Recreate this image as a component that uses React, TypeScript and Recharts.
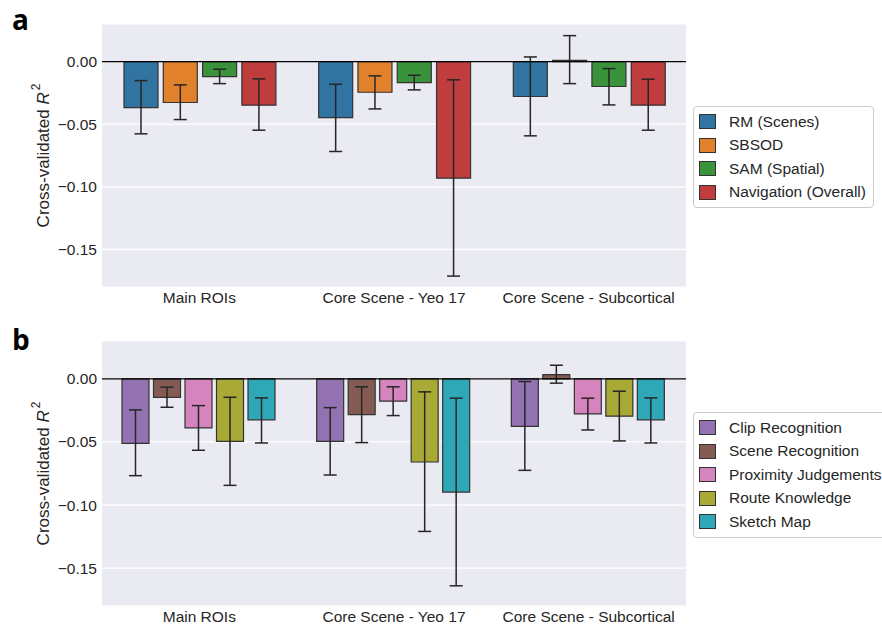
import React from "react";
import {
  BarChart,
  Bar,
  XAxis,
  YAxis,
  CartesianGrid,
  ReferenceLine,
  ErrorBar,
} from "recharts";

const FONT = '"Liberation Sans", Arial, sans-serif';

const categories = ["Main ROIs", "Core Scene - Yeo 17", "Core Scene - Subcortical"];
const yTicks = [-0.15, -0.1, -0.05, 0];

// panel a - questionnaire / behavioural scores
const rmScenes = [-0.0367, -0.0447, -0.0279];
const rmScenesLo = [-0.0577, -0.0718, -0.0593];
const rmScenesHi = [-0.0152, -0.0181, 0.0037];

const sbsod = [-0.0327, -0.0245, 0.001];
const sbsodLo = [-0.0463, -0.0378, -0.0176];
const sbsodHi = [-0.0186, -0.0114, 0.0207];

const samSpatial = [-0.012, -0.0168, -0.0199];
const samSpatialLo = [-0.0176, -0.0226, -0.0346];
const samSpatialHi = [-0.0061, -0.0109, -0.0056];

const navOverall = [-0.0348, -0.0931, -0.0348];
const navOverallLo = [-0.0548, -0.1713, -0.0548];
const navOverallHi = [-0.0138, -0.0146, -0.0141];

// panel b - navigation sub-tests
const clipRec = [-0.0511, -0.0495, -0.0376];
const clipRecLo = [-0.0767, -0.0762, -0.0725];
const clipRecHi = [-0.0246, -0.0228, -0.0021];

const sceneRec = [-0.0146, -0.0283, 0.0034];
const sceneRecLo = [-0.0225, -0.0505, -0.0034];
const sceneRecHi = [-0.0066, -0.0063, 0.0108];

const proximity = [-0.0389, -0.0177, -0.0278];
const proximityLo = [-0.0566, -0.0291, -0.0405];
const proximityHi = [-0.0212, -0.0063, -0.0153];

const routeKnow = [-0.0495, -0.0659, -0.0296];
const routeKnowLo = [-0.0844, -0.1209, -0.0492];
const routeKnowHi = [-0.0146, -0.0103, -0.0098];

const sketchMap = [-0.0325, -0.0897, -0.0325];
const sketchMapLo = [-0.0508, -0.164, -0.0508];
const sketchMapHi = [-0.0151, -0.0153, -0.0151];

type Series = {
  key: string;
  name: string;
  color: string;
  values: number[];
  lo: number[];
  hi: number[];
};

const seriesA: Series[] = [
  { key: "rm", name: "RM (Scenes)", color: "#3274A1", values: rmScenes, lo: rmScenesLo, hi: rmScenesHi },
  { key: "sbsod", name: "SBSOD", color: "#E1812C", values: sbsod, lo: sbsodLo, hi: sbsodHi },
  { key: "sam", name: "SAM (Spatial)", color: "#3A923A", values: samSpatial, lo: samSpatialLo, hi: samSpatialHi },
  { key: "nav", name: "Navigation (Overall)", color: "#C03D3E", values: navOverall, lo: navOverallLo, hi: navOverallHi },
];

const seriesB: Series[] = [
  { key: "clip", name: "Clip Recognition", color: "#9372B2", values: clipRec, lo: clipRecLo, hi: clipRecHi },
  { key: "scene", name: "Scene Recognition", color: "#845B53", values: sceneRec, lo: sceneRecLo, hi: sceneRecHi },
  { key: "prox", name: "Proximity Judgements", color: "#D684BD", values: proximity, lo: proximityLo, hi: proximityHi },
  { key: "route", name: "Route Knowledge", color: "#A9AA35", values: routeKnow, lo: routeKnowLo, hi: routeKnowHi },
  { key: "sketch", name: "Sketch Map", color: "#2EA8B7", values: sketchMap, lo: sketchMapLo, hi: sketchMapHi },
];

function buildRows(series: Series[]) {
  return categories.map((name, i) => {
    const row: Record<string, any> = { name };
    series.forEach((s) => {
      const v = s.values[i];
      row[s.key] = v;
      // asymmetric error: [below, above]
      row[s.key + "Err"] = [v - s.lo[i], s.hi[i] - v];
    });
    return row;
  });
}

const fmtTick = (v: number) =>
  v === 0 ? "0.00" : (v < 0 ? "\u2212" : "") + Math.abs(v).toFixed(2);

type PanelProps = {
  top: number;
  height: number;
  plotTop: number;
  plotBottom: number;
  series: Series[];
  catGap: number;
  barGap: number;
};

function Panel({ top, height, plotTop, plotBottom, series, catGap, barGap }: PanelProps) {
  const rows = buildRows(series);
  const xAxisHeight = height - (plotBottom - top);
  return (
    <div style={{ position: "absolute", left: 0, top, width: 882, height }}>
      <BarChart
        width={882}
        height={height}
        data={rows}
        margin={{ top: plotTop - top, right: 196, bottom: 0, left: 0 }}
        barCategoryGap={catGap}
        barGap={barGap}
      >
        <CartesianGrid vertical={false} stroke="#ffffff" strokeWidth={1.2} fill="#EAEAF2" />
        <XAxis
          dataKey="name"
          height={xAxisHeight}
          axisLine={false}
          tickLine={false}
          tickSize={3}
          tickMargin={2}
          interval={0}
          tick={{ fill: "#262626", fontSize: 15.5, fontFamily: FONT }}
        />
        <YAxis
          width={102}
          domain={[-0.18, 0.03]}
          ticks={yTicks}
          allowDataOverflow
          axisLine={false}
          tickLine={false}
          tickSize={3}
          tickMargin={2}
          tickFormatter={fmtTick}
          tick={{ fill: "#262626", fontSize: 15.5, fontFamily: FONT }}
        />
        {series.map((s) => (
          <Bar
            key={s.key}
            dataKey={s.key}
            name={s.name}
            fill={s.color}
            stroke="#333333"
            strokeWidth={1.2}
            isAnimationActive={false}
          >
            <ErrorBar dataKey={s.key + "Err"} width={6.5} stroke="#262626" strokeWidth={1.5} />
          </Bar>
        ))}
        <ReferenceLine y={0} stroke="#000000" strokeWidth={1.2} />
      </BarChart>
    </div>
  );
}

function LegendBox({ series, left, top, width }: { series: Series[]; left: number; top: number; width: number }) {
  return (
    <div
      style={{
        position: "absolute",
        left,
        top,
        width,
        boxSizing: "border-box",
        border: "1px solid #cccccc",
        borderRadius: 4,
        background: "#ffffff",
        padding: "3px 0 3px 5px",
        fontFamily: FONT,
        fontSize: 15.5,
        color: "#262626",
      }}
    >
      {series.map((s) => (
        <div key={s.key} style={{ display: "flex", alignItems: "center", height: 23.5 }}>
          <span
            style={{
              display: "inline-block",
              width: 17,
              height: 15,
              background: s.color,
              border: "1px solid #333333",
              boxSizing: "border-box",
              marginRight: 13,
              flexShrink: 0,
            }}
          />
          <span style={{ whiteSpace: "nowrap" }}>{s.name}</span>
        </div>
      ))}
    </div>
  );
}

function YLabel({ cx, cy }: { cx: number; cy: number }) {
  return (
    <text
      transform={`translate(${cx}, ${cy}) rotate(-90)`}
      textAnchor="middle"
      dominantBaseline="central"
      fontFamily={FONT}
      fontSize={17}
      fill="#262626"
    >
      Cross-validated <tspan fontStyle="italic">R</tspan>
      <tspan dx={2} dy={-7} fontSize={12}>
        2
      </tspan>
    </text>
  );
}

export default function App() {
  return (
    <div
      style={{
        position: "absolute",
        left: 0,
        top: 0,
        width: 882,
        height: 625,
        overflow: "hidden",
        background: "#ffffff",
      }}
    >
      <Panel top={0} height={310} plotTop={24} plotBottom={287} series={seriesA} catGap={22} barGap={5.3} />
      <Panel top={317} height={308} plotTop={341} plotBottom={606} series={seriesB} catGap={20} barGap={4.5} />
      <LegendBox series={seriesA} left={693} top={106} width={181} />
      <LegendBox series={seriesB} left={693} top={412} width={200} />
      <svg
        width={882}
        height={625}
        style={{ position: "absolute", left: 0, top: 0, pointerEvents: "none" }}
      >
        <text x={12} y={30} fontFamily='"Open Sans", sans-serif' fontWeight="bold" fontSize={28} fill="#000">
          a
        </text>
        <text x={12} y={350} fontFamily='"Open Sans", sans-serif' fontWeight="bold" fontSize={28} fill="#000">
          b
        </text>
        <YLabel cx={43} cy={155.5} />
        <YLabel cx={43} cy={473.5} />
      </svg>
    </div>
  );
}
